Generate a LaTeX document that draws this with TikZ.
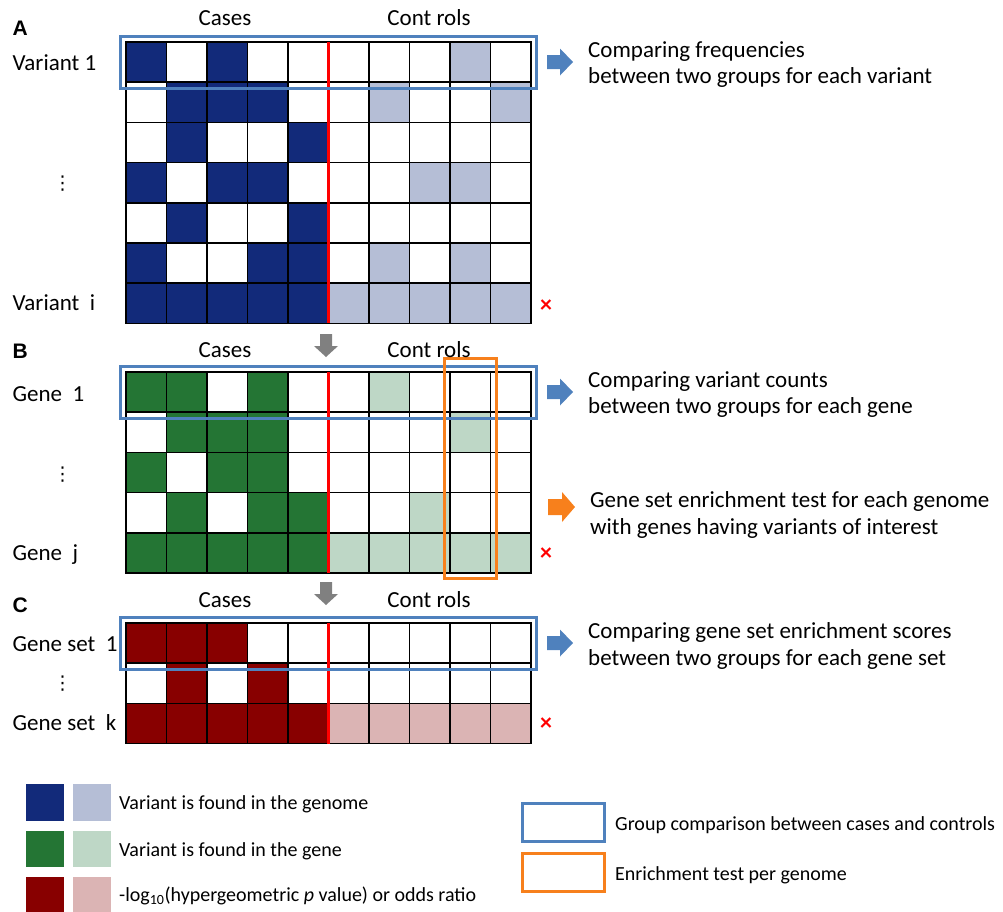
\documentclass[tikz,border=0pt]{standalone}
\usepackage{fontspec}
\setmainfont{Carlito}
\newfontfamily\headfont{Liberation Sans}
\newfontfamily\symfont{DejaVu Sans}
\definecolor{dkblue}{RGB}{18,42,122}
\definecolor{ltblue}{RGB}{181,190,214}
\definecolor{dkgreen}{RGB}{36,117,52}
\definecolor{ltgreen}{RGB}{190,215,198}
\definecolor{dkred}{RGB}{136,0,0}
\definecolor{ltred}{RGB}{219,180,180}
\definecolor{boxblue}{RGB}{79,129,189}
\definecolor{boxorange}{RGB}{247,128,28}
\definecolor{arrgray}{RGB}{128,128,128}
\newcommand\drawgrid[5]{%
  \foreach \row [count=\r from 0] in {#4} {
    \foreach \v [count=\k from 0] in \row {
      \ifnum\v=1 \fill[#2] ({126+40.5*\k},{#1+40.2*\r}) rectangle ++(40.5,40.2);\fi
      \ifnum\v=2 \fill[#3] ({126+40.5*\k},{#1+40.2*\r}) rectangle ++(40.5,40.2);\fi
    }
  }
  \foreach \k in {0,...,10} \draw[gridline] ({126+40.5*\k},#1) -- ++(0,{40.2*#5});
  \foreach \r in {0,...,#5} \draw[gridline] (126,{#1+40.2*\r}) -- (531,{#1+40.2*\r});
  \draw[redline] (328.5,#1) -- ++(0,{40.2*#5});
}
\tikzset{
  gridline/.style={black, line width=1.6pt, line cap=rect},
  redline/.style={red, line width=3pt},
  bluebox/.style={draw=boxblue, line width=3pt},
  orangebox/.style={draw=boxorange, line width=3pt},
  lbl/.style={inner sep=0pt, anchor=base west, font=\fontsize{23}{27}\selectfont},
  leg/.style={inner sep=0pt, anchor=base west, font=\fontsize{20}{24}\selectfont},
  head/.style={inner sep=0pt, anchor=base west, font=\headfont\bfseries\fontsize{21}{21}\selectfont},
  vdotsnode/.style={inner sep=0pt, font=\symfont\fontsize{19}{19}\selectfont},
  cross/.style={inner sep=0pt, text=red, font=\bfseries\fontsize{24}{24}\selectfont},
  pics/rarrow/.style={code={\fill (0,-7) -- (13,-7) -- (13,-13.5) -- (26,0) -- (13,13.5) -- (13,7) -- (0,7) -- cycle;}},
  pics/rarrowbig/.style={code={\fill (0,-8) -- (14,-8) -- (14,-15) -- (27,0) -- (14,15) -- (14,8) -- (0,8) -- cycle;}},
  pics/darrow/.style={code={\fill (-6,0) -- (6,0) -- (6,12) -- (12,12) -- (0,23) -- (-12,12) -- (-6,12) -- cycle;}}
}
\begin{document}
\begin{tikzpicture}[x=1pt,y=-1pt]
\useasboundingbox (0,0) rectangle (1003,911);
% ---------- Panel A ----------
\drawgrid{42}{dkblue}{ltblue}{{1,0,1,0,0,0,0,0,2,0},{0,1,1,1,0,0,2,0,0,2},{0,1,0,0,1,0,0,0,0,0},{1,0,1,1,0,0,0,2,2,0},{0,1,0,0,1,0,0,0,0,0},{1,0,0,1,1,0,2,0,2,0},{1,1,1,1,1,2,2,2,2,2}}{7}
\draw[bluebox] (120.5,36) rectangle (536,88);
\node[head] (lA) at (12.5,35) {A};
\node[lbl, anchor=base] (casesA) at (225,25) {Cases};
\node[lbl, anchor=base] (ctrlA) at (429,25) {Cont rols};
\node[lbl] (v1) at (12.5,70) {Variant 1};
\node[vdotsnode] (vdA) at (62.5,184) {⋮};
\node[lbl] (vi) at (12.5,310) {Variant\ \ i};
\node[cross] (xA) at (546,306) {×};
\pic[boxblue] (arrA) at (547,62) {rarrow};
\node[lbl] (tA1) at (588,57) {Comparing frequencies};
\node[lbl] (tA2) at (588,83) {between two groups for each variant};
% gray arrow A->B
\pic[arrgray] (gAB) at (326,334) {darrow};
% ---------- Panel B ----------
\drawgrid{372}{dkgreen}{ltgreen}{{1,1,0,1,0,0,2,0,0,0},{0,1,1,1,0,0,0,0,2,0},{1,0,1,1,0,0,0,0,0,0},{0,1,0,1,1,0,0,2,0,0},{1,1,1,1,1,2,2,2,2,2}}{5}
\draw[bluebox] (120.5,366) rectangle (536,418);
\draw[orangebox] (444,358) rectangle (496.5,578);
\node[head] (lB) at (12.5,358) {B};
\node[lbl, anchor=base] (casesB) at (225,357) {Cases};
\node[lbl, anchor=base] (ctrlB) at (429,357) {Cont rols};
\node[lbl] (g1) at (12.5,401) {Gene\ \ 1};
\node[vdotsnode] (vdB) at (62.5,475) {⋮};
\node[lbl] (gj) at (12.5,560) {Gene\ \ j};
\node[cross] (xB) at (546,554) {×};
\pic[boxblue] (arrB) at (547,392) {rarrow};
\node[lbl] (tB1) at (588,387) {Comparing variant counts};
\node[lbl] (tB2) at (588,413) {between two groups for each gene};
\pic[boxorange] (arrO) at (548,507) {rarrowbig};
\node[lbl] (tO1) at (590,507) {Gene set enrichment test for each genome};
\node[lbl] (tO2) at (590,534) {with genes having variants of interest};
% gray arrow B->C
\pic[arrgray] (gBC) at (326,582) {darrow};
% ---------- Panel C ----------
\drawgrid{623}{dkred}{ltred}{{1,1,1,0,0,0,0,0,0,0},{0,1,0,1,0,0,0,0,0,0},{1,1,1,1,1,2,2,2,2,2}}{3}
\draw[bluebox] (120.5,617) rectangle (536,669);
\node[head] (lC) at (12.5,612) {C};
\node[lbl, anchor=base] (casesC) at (225,607) {Cases};
\node[lbl, anchor=base] (ctrlC) at (429,607) {Cont rols};
\node[lbl] (gs1) at (12.5,651) {Gene set\ \ 1};
\node[vdotsnode] (vdC) at (62.5,684) {⋮};
\node[lbl] (gsk) at (12.5,730) {Gene set\ \ k};
\node[cross] (xC) at (546,724) {×};
\pic[boxblue] (arrC) at (547,643) {rarrow};
\node[lbl] (tC1) at (588,638) {Comparing gene set enrichment scores};
\node[lbl] (tC2) at (588,665) {between two groups for each gene set};
% ---------- Legend ----------
\fill[dkblue] (26,784) rectangle (64,821);
\fill[ltblue] (73,784) rectangle (111,821);
\fill[dkgreen] (26,831) rectangle (64,867);
\fill[ltgreen] (73,831) rectangle (111,867);
\fill[dkred] (26,877) rectangle (64,913);
\fill[ltred] (73,877) rectangle (111,913);
\node[leg] (lg1) at (119,809) {Variant is found in the genome};
\node[leg] (lg2) at (119,856) {Variant is found in the gene};
\node[leg] (lg3) at (119,901) {-log\textsubscript{10}(hypergeometric \textit{p} value) or odds ratio};
\draw[bluebox] (522.5,803.5) rectangle (604,841);
\draw[orangebox] (522.5,853.5) rectangle (604,891);
\node[leg] (lg4) at (615,830) {Group comparison between cases and controls};
\node[leg] (lg5) at (615,880) {Enrichment test per genome};
\end{tikzpicture}
\end{document}
